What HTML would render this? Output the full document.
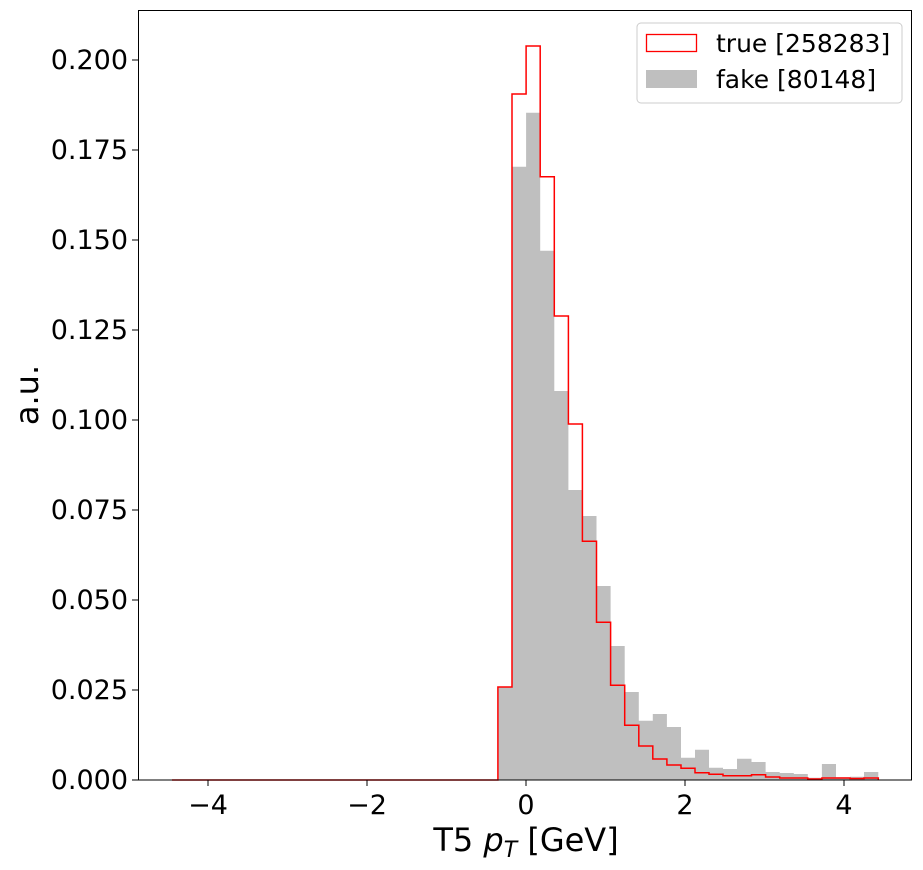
<!DOCTYPE html>
<html><head><style>body{margin:0;background:#fff}svg{display:block}text{font-family:"DejaVu Sans","Liberation Sans",sans-serif;fill:#000}</style></head>
<body>
<svg width="923" height="870" viewBox="0 0 923 870" xmlns="http://www.w3.org/2000/svg">
<rect width="923" height="870" fill="#fff"/>
<g fill="#bfbfbf">
<path d="M497.9,780 V687 H512 V166.7 H526.1 V112.7 H540.2 V250.7 H554.3 V391 H568.4 V490 H582.4 V516 H596.5 V586 H610.6 V646 H624.7 V692 H638.8 V720.7 H652.8 V714 H666.9 V727 H681 V757.7 H695 V749.7 H709 V767.7 H723 V769 H737 V758.7 H751.5 V762 H765.6 V772 H779.7 V773 H793.8 V774 H807.8 V777.7 H821.9 V764 H836 V777.3 H850 V776.7 H864 V772 H878.3 V780 Z"/>
</g>
<path d="M172,780 H497.9 V687 H512 V94 H526.1 V46 H540.2 V176.7 H554.3 V316 H568.4 V424 H582.4 V541.3 H596.5 V622.3 H610.6 V685.3 H624.7 V725.3 H638.8 V746 H652.8 V759 H666.9 V765 H681 V768.3 H695 V772.7 H709 V774.3 H723 V775.7 H737 V775.7 H751.5 V774.7 H765.6 V777 H779.7 V778 H807.8 V779 H821.9 V778 H850 V778.5 H864 V778 H878.3 V780" fill="none" stroke="#f00" stroke-width="1.5"/>
<rect x="138.5" y="10.5" width="773" height="769.5" fill="none" stroke="#000" stroke-width="1"/>
<g stroke="#000" stroke-width="1">
<line x1="208" y1="780" x2="208" y2="786"/><line x1="367" y1="780" x2="367" y2="786"/><line x1="526" y1="780" x2="526" y2="786"/><line x1="685" y1="780" x2="685" y2="786"/><line x1="844" y1="780" x2="844" y2="786"/>
<line x1="132" y1="780" x2="138" y2="780"/><line x1="132" y1="690" x2="138" y2="690"/><line x1="132" y1="600" x2="138" y2="600"/><line x1="132" y1="510" x2="138" y2="510"/><line x1="132" y1="420" x2="138" y2="420"/><line x1="132" y1="330" x2="138" y2="330"/><line x1="132" y1="240" x2="138" y2="240"/><line x1="132" y1="150" x2="138" y2="150"/><line x1="132" y1="60" x2="138" y2="60"/>
</g>
<g font-size="27" text-anchor="middle">
<text x="208" y="814">−4</text><text x="367" y="814">−2</text><text x="526" y="814">0</text><text x="685" y="814">2</text><text x="844" y="814">4</text>
</g>
<g font-size="27" text-anchor="end">
<text x="128" y="789">0.000</text><text x="128" y="699">0.025</text><text x="128" y="609">0.050</text><text x="128" y="519">0.075</text><text x="128" y="429">0.100</text><text x="128" y="339">0.125</text><text x="128" y="249">0.150</text><text x="128" y="159">0.175</text><text x="128" y="69">0.200</text>
</g>
<text x="526" y="851" font-size="32" text-anchor="middle">T5 <tspan font-style="italic">p</tspan><tspan font-style="italic" font-size="22" dy="6">T</tspan><tspan dy="-6"> [GeV]</tspan></text>
<text transform="translate(38,395) rotate(-90)" font-size="32" text-anchor="middle">a.u.</text>
<rect x="637" y="23" width="265" height="80" rx="4" fill="#fff" stroke="#ccc" stroke-width="1"/>
<rect x="646.5" y="34.5" width="50" height="17" fill="none" stroke="#f00" stroke-width="1.3"/>
<rect x="646" y="70" width="51" height="18" fill="#bfbfbf"/>
<text x="716" y="52" font-size="25">true [258283]</text>
<text x="716" y="88" font-size="25">fake [80148]</text>
</svg>
</body></html>
